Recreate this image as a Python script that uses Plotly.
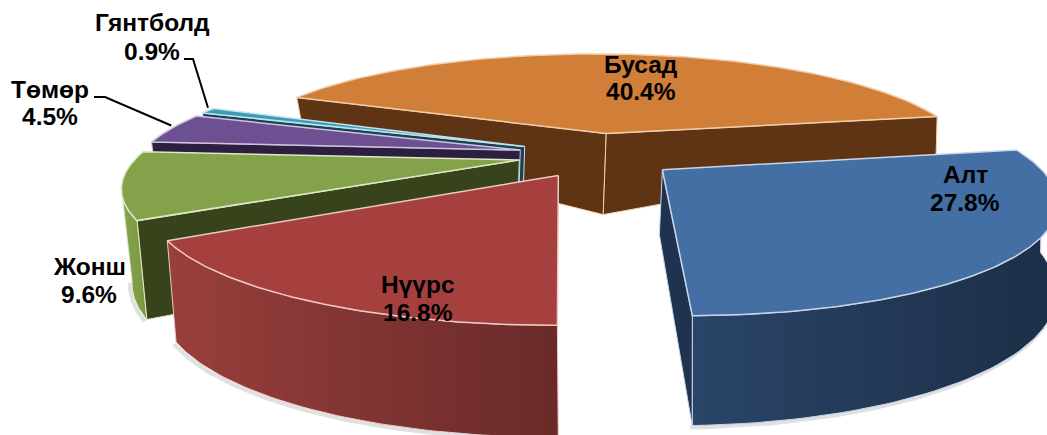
import numpy as np
import plotly.graph_objects as go

# --- data ---
categories = ["Алт", "Нүүрс", "Жонш", "Төмөр", "Гянтболд", "Бусад"]
shares = [27.8, 16.8, 9.6, 4.5, 0.9, 40.4]

# --- style ---
top_colors = ["#436fa4", "#a5403f", "#84a24a", "#6d5091", "#3d9ab4", "#d07e38"]
edge_colors = ["#c9d6e8", "#eec9c6", "#dfe8c8", "#cfc4de", "#bfe3ec", "#f0cfa8"]
inner_colors = ["#1f3350", "#8a3835", "#36431b", "#2c1f40", "#1a4252", "#5e3415"]
rim_grad = [("#2a4568", "#1c2e47"), ("#993f3c", "#692a28"), ("#86a44c", "#7a9743"),
            ("#2c1f40", "#2c1f40"), ("#1a4252", "#1a4252"), ("#5e3415", "#5e3415")]
apex_drop = [65, 90, 90, 90, 90, 81]
inner_edge = ["end", None, "start", "start", "start", "both"]
draw_order = [5, 4, 3, 2, 1, 0]
label_pos = {"Алт": (965, 174, 202), "Нүүрс": (418, 284, 312), "Жонш": (89, 266, 294),
             "Төмөр": (50, 89, 116), "Гянтболд": (152, 22, 51), "Бусад": (641, 64, 91)}
leader_elbows = {"Гянтболд": [(184, 59), (193, 59)], "Төмөр": [(94, 97), (105, 97)]}

START_DEG = -10.6
EXPLODE = 0.213
CX, CY, RX_LEFT, RX_RIGHT, RY, K, SHEAR = 599, 155, 381, 368, 105.9, 0.222, 7

cum = np.concatenate([[0], np.cumsum(shares)]) / np.sum(shares) * 360 + START_DEG
starts, ends = cum[:-1], cum[1:]
mids = (starts + ends) / 2


def offset(i):
    a = np.radians(mids[i])
    return EXPLODE * np.cos(a), EXPLODE * np.sin(a)


def proj(X, Y):
    s = 1 / (1 - K * Y)
    rx = np.where(np.asarray(X) < 0, RX_LEFT, RX_RIGHT)
    return CX + rx * X * s + SHEAR * Y, CY + RY * Y * s


def drop(i, X, Y):
    if categories[i] == "Бусад":
        return 81 - 43 * np.abs(X)
    return 87 + 21 * Y - 6 * np.maximum(X, 0)


def rim(i, a0, a1, n=60):
    a = np.radians(np.linspace(a0, a1, n))
    ox, oy = offset(i)
    return np.cos(a) + ox, np.sin(a) + oy


def top_xy(X, Y):
    return proj(np.asarray(X, float), np.asarray(Y, float))


def bottom_xy(i, X, Y):
    X, Y = np.asarray(X, float), np.asarray(Y, float)
    x, y = proj(X, Y)
    dx = np.where(X < 0, -9 * X, -1 * X)
    return x + dx, y + drop(i, X, Y)


fig = go.Figure()


def poly(x, y, fill, line, width=1.2, grad=None):
    kw = dict(x=list(x), y=list(y), mode="lines", fill="toself",
              line=dict(color=line, width=width), hoverinfo="skip", showlegend=False)
    if grad:
        kw["fillgradient"] = dict(type="horizontal", colorscale=[[0, grad[0]], [1, grad[1]]])
    else:
        kw["fillcolor"] = fill
    fig.add_trace(go.Scatter(**kw))


def inner_wall(i, angle):
    X, Y = rim(i, angle, angle, 1)
    ox, oy = offset(i)
    tx, ty = top_xy(X, Y)
    bx, by = bottom_xy(i, X, Y)
    ax, ay = proj(ox, oy)
    ax, ay = float(ax), float(ay)
    poly([ax, tx[0], bx[0], ax - 3, ax], [ay, ty[0], by[0], ay + apex_drop[i], ay],
         inner_colors[i], edge_colors[i], 1)


def rim_wall(i, a0, a1):
    X, Y = rim(i, a0, a1)
    tx, ty = top_xy(X, Y)
    bx, by = bottom_xy(i, X, Y)
    # soft ground shadow under the wall
    fig.add_trace(go.Scatter(x=list(bx - 2), y=list(by + 2), mode="lines",
                             line=dict(color="rgba(0,0,0,0.12)", width=4),
                             hoverinfo="skip", showlegend=False))
    poly(np.r_[tx, bx[::-1], tx[0]], np.r_[ty, by[::-1], ty[0]],
         None, edge_colors[i], 1, grad=rim_grad[i])


for i in draw_order:
    name = categories[i]
    if name == "Алт":
        rim_wall(i, 0, ends[i])
    elif name == "Нүүрс":
        rim_wall(i, starts[i], ends[i])
    elif name == "Жонш":
        rim_wall(i, starts[i], 166)
    if inner_edge[i] in ("start", "both"):
        inner_wall(i, starts[i])
    if inner_edge[i] in ("end", "both"):
        inner_wall(i, ends[i])
    X, Y = rim(i, starts[i], ends[i], 120)
    ox, oy = offset(i)
    tx, ty = top_xy(np.r_[ox, X, ox], np.r_[oy, Y, oy])
    poly(tx, ty, top_colors[i], edge_colors[i], 1.5)

# leader lines
for name, elbow in leader_elbows.items():
    i = categories.index(name)
    X, Y = rim(i, mids[i], mids[i], 1)
    ex, ey = top_xy(X, Y)
    pts = elbow + [(float(ex[0]), float(ey[0]) - 3)]
    fig.add_trace(go.Scatter(x=[p[0] for p in pts], y=[p[1] for p in pts], mode="lines",
                             line=dict(color="#000000", width=2),
                             hoverinfo="skip", showlegend=False))

# labels
font = dict(family="Liberation Sans, Arial, sans-serif", size=24.5, color="#000000")
for name, share in zip(categories, shares):
    lx, y1, y2 = label_pos[name]
    fig.add_annotation(x=lx, y=y1, text=f"<b>{name}</b>", showarrow=False, font=font)
    fig.add_annotation(x=lx, y=y2, text=f"<b>{share:.1f}%</b>", showarrow=False, font=font)

fig.update_xaxes(range=[0, 1047], visible=False, fixedrange=True)
fig.update_yaxes(range=[435, 0], visible=False, fixedrange=True)
fig.update_layout(width=1047, height=435, margin=dict(l=0, r=0, t=0, b=0),
                  paper_bgcolor="#ffffff", plot_bgcolor="#ffffff", showlegend=False)

fig.write_html("out.html", config={"displayModeBar": False},
               post_script="document.body.style.margin='0';document.documentElement.style.overflow='hidden';")
